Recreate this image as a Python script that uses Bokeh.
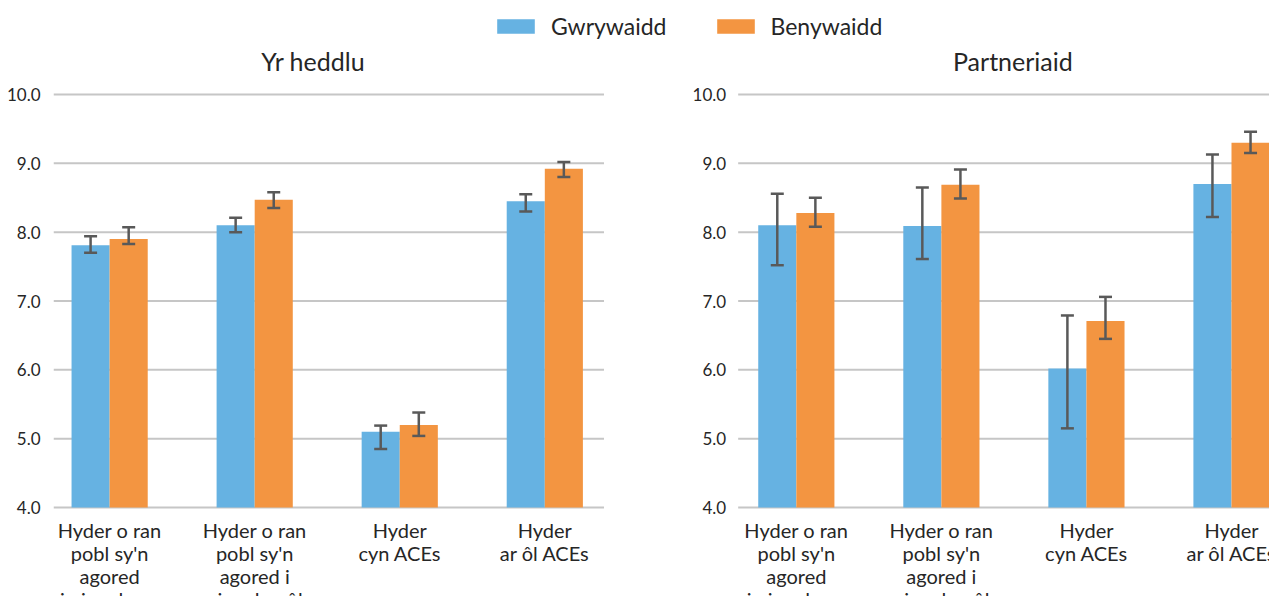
from bokeh.plotting import figure
from bokeh.core.properties import value
from bokeh.models import (Range1d, FixedTicker, NumeralTickFormatter, Whisker, TeeHead,
                          ColumnDataSource, Legend, LegendItem)
from bokeh.embed import file_html
from bokeh.resources import INLINE

# ---------------- data ----------------
categories = ["Hyder o ran\npobl sy'n\nagored\ni niwed cyn",
              "Hyder o ran\npobl sy'n\nagored i\nniwed ar ôl",
              "Hyder\ncyn ACEs",
              "Hyder\nar ôl ACEs"]
series = ["Gwrywaidd", "Benywaidd"]
panel_titles = ["Yr heddlu", "Partneriaid"]
y_ticks = [4, 5, 6, 7, 8, 9, 10]

police_male = [7.81, 8.10, 5.10, 8.45]
police_male_low = [7.70, 8.00, 4.85, 8.30]
police_male_high = [7.94, 8.21, 5.19, 8.55]
police_female = [7.90, 8.47, 5.20, 8.92]
police_female_low = [7.83, 8.35, 5.04, 8.80]
police_female_high = [8.07, 8.58, 5.38, 9.02]

partner_male = [8.10, 8.09, 6.02, 8.70]
partner_male_low = [7.52, 7.61, 5.15, 8.22]
partner_male_high = [8.56, 8.65, 6.79, 9.13]
partner_female = [8.28, 8.69, 6.71, 9.30]
partner_female_low = [8.08, 8.49, 6.45, 9.15]
partner_female_high = [8.50, 8.91, 7.06, 9.46]

# ---------------- layout / style ----------------
colors = ["#66B2E2", "#F39541"]
FONT = "Lato"
TXT = "#262626"
GRID = "#c6c6c6"
ERR = "#595959"
BAR_W = 0.2626
OFF = 0.1313
X_START, X_END = -0.387, 7.996
Y_START, Y_END = 2.707, 11.366
PANEL_SHIFT = [0.0, 4.734]                     # x offset of each panel
PANEL_SPAN = [(-0.387, 3.408), (4.333, 8.2)]   # gridline extent of each panel
TITLE_X = [1.403, 6.227]
TITLE_Y = 10.48

p = figure(width=1269, height=596, x_range=Range1d(X_START, X_END),
           y_range=Range1d(Y_START, Y_END), output_backend="svg", toolbar_location=None,
           x_axis_location=None, min_border_left=53, min_border_right=0,
           min_border_top=0, min_border_bottom=0)
p.outline_line_color = None
p.xgrid.visible = False
p.ygrid.visible = False

p.yaxis.ticker = FixedTicker(ticks=y_ticks)
p.yaxis.formatter = NumeralTickFormatter(format="0.0")
p.yaxis.axis_line_color = None
p.yaxis.major_tick_line_color = None
p.yaxis.minor_tick_line_color = None
p.yaxis.major_label_standoff = 7
p.yaxis.major_label_text_font = FONT
p.yaxis.major_label_text_font_size = "17px"
p.yaxis.major_label_text_color = TXT

panels = [
    (police_male, police_male_low, police_male_high,
     police_female, police_female_low, police_female_high),
    (partner_male, partner_male_low, partner_male_high,
     partner_female, partner_female_low, partner_female_high),
]

base = y_ticks[0]
legend_renderers = None
for k, (male, mlo, mhi, female, flo, fhi) in enumerate(panels):
    shift = PANEL_SHIFT[k]
    x0, x1 = PANEL_SPAN[k]
    # horizontal gridlines of this panel
    p.segment(x0=[x0] * len(y_ticks), x1=[x1] * len(y_ticks), y0=y_ticks, y1=y_ticks,
              line_color=GRID, line_width=2)
    idx = [i + shift for i in range(len(categories))]
    xm = [i - OFF for i in idx]
    xf = [i + OFF for i in idx]
    rm = p.vbar(x=xm, top=male, bottom=base, width=BAR_W, fill_color=colors[0], line_color=None)
    rf = p.vbar(x=xf, top=female, bottom=base, width=BAR_W, fill_color=colors[1], line_color=None)
    if legend_renderers is None:
        legend_renderers = (rm, rf)
    for xs, lo, hi in ((xm, mlo, mhi), (xf, flo, fhi)):
        src = ColumnDataSource(dict(x=xs, lower=lo, upper=hi))
        p.add_layout(Whisker(base="x", lower="lower", upper="upper", source=src, level="overlay",
                             line_color=ERR, line_width=2.5,
                             upper_head=TeeHead(size=13, line_color=ERR, line_width=2.5),
                             lower_head=TeeHead(size=13, line_color=ERR, line_width=2.5)))
    # category labels
    p.text(x=idx, y=[base] * len(idx), text=categories, y_offset=10,
           text_align="center", text_baseline="top",
           text_font=value(FONT), text_font_size="20px",
           text_color=TXT, text_line_height=0.96)
    # panel title
    p.text(x=[TITLE_X[k]], y=[TITLE_Y], text=[panel_titles[k]],
           text_align="center", text_baseline="middle",
           text_font=value(FONT), text_font_size="25px", text_color=TXT)
    # value labels of the second panel's own axis
    if k > 0:
        p.text(x=[x0] * len(y_ticks), y=y_ticks, text=["%.1f" % t for t in y_ticks],
               x_offset=-12, text_align="right", text_baseline="middle",
               text_font=value(FONT), text_font_size="17px", text_color=TXT)

leg = Legend(items=[LegendItem(label=series[0], renderers=[legend_renderers[0]]),
                    LegendItem(label=series[1], renderers=[legend_renderers[1]])],
             location=(439, 556), orientation="horizontal", spacing=45,
             glyph_width=47, glyph_height=18, label_standoff=12, padding=0, margin=0,
             border_line_color=None, background_fill_alpha=0,
             label_text_font=FONT, label_text_font_size="23px", label_text_color=TXT,
             label_height=28)
p.add_layout(leg)

open("out.html", "w").write(file_html(p, INLINE))
